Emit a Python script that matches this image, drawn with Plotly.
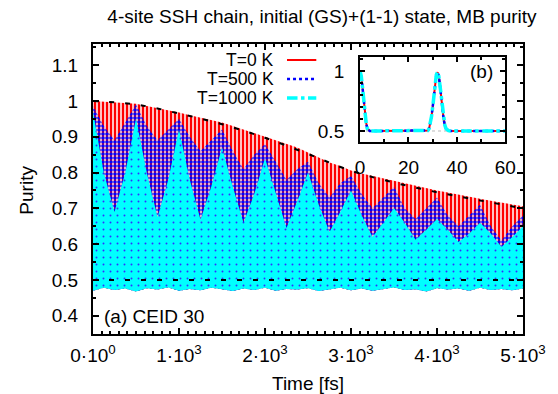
import plotly.graph_objects as go

# ---------------- data ----------------
# main panel: envelopes of the fast oscillations (sampled every 125 fs)
t_env = [0, 125, 250, 375, 500, 625, 750, 875, 1000, 1125, 1250, 1375, 1500, 1625,
         1750, 1875, 2000, 2125, 2250, 2375, 2500, 2625, 2750, 2875, 3000, 3125,
         3250, 3375, 3500, 3625, 3750, 3875, 4000, 4125, 4250, 4375, 4500, 4625,
         4750, 4875, 5000]
T0_top = [1.000, 0.998, 0.996, 0.994, 0.992, 0.986, 0.980, 0.975, 0.968, 0.960, 0.953,
          0.948, 0.940, 0.930, 0.920, 0.912, 0.902, 0.892, 0.880, 0.870, 0.856, 0.842,
          0.828, 0.818, 0.806, 0.797, 0.790, 0.783, 0.776, 0.770, 0.764, 0.757, 0.750,
          0.744, 0.739, 0.733, 0.727, 0.721, 0.716, 0.710, 0.706]
T500_top = [0.985, 0.93, 0.89, 0.94, 0.99, 0.93, 0.89, 0.92, 0.95, 0.90, 0.86, 0.89,
            0.92, 0.86, 0.81, 0.85, 0.88, 0.83, 0.78, 0.81, 0.83, 0.77, 0.73, 0.77,
            0.79, 0.74, 0.70, 0.73, 0.76, 0.70, 0.67, 0.70, 0.73, 0.68, 0.65, 0.68,
            0.71, 0.65, 0.61, 0.65, 0.68]
T1000_top = [0.97, 0.80, 0.69, 0.80, 0.95, 0.80, 0.675, 0.78, 0.92, 0.78, 0.668, 0.76,
             0.87, 0.76, 0.66, 0.74, 0.84, 0.74, 0.645, 0.72, 0.80, 0.71, 0.634, 0.69,
             0.75, 0.68, 0.62, 0.66, 0.70, 0.66, 0.612, 0.64, 0.67, 0.64, 0.606, 0.63,
             0.66, 0.63, 0.592, 0.62, 0.65]
osc_bottom = [0.470, 0.478, 0.472, 0.476, 0.468, 0.477, 0.473, 0.479, 0.470, 0.475,
              0.471, 0.478, 0.474, 0.469, 0.476, 0.472, 0.478, 0.470, 0.475, 0.473,
              0.477, 0.469, 0.474, 0.478, 0.471, 0.476, 0.470, 0.475, 0.479, 0.472,
              0.474, 0.468, 0.477, 0.473, 0.476, 0.470, 0.478, 0.472, 0.475, 0.471,
              0.476]

# dashed reference curves
t_ref = [0, 500, 1000, 1500, 2000, 2500, 3000, 3500, 4000, 4500, 5000]
ref_upper = [1.0, 0.99, 0.965, 0.935, 0.897, 0.852, 0.805, 0.772, 0.745, 0.722, 0.70]
ref_lower = [0.5, 0.5, 0.5, 0.5, 0.5, 0.5, 0.5, 0.5, 0.5, 0.5, 0.5]

# inset (b): short-time purity (all three temperatures coincide)
inset_t = [0, 0.5, 1, 1.5, 2, 2.5, 3, 3.5, 4, 6, 8, 12, 16, 20, 24, 27, 28, 28.5, 29,
           29.5, 30, 30.5, 31, 31.5, 32, 32.5, 33, 33.5, 34, 34.5, 35, 35.5, 36.5,
           37.5, 42, 46, 50, 54, 58, 60]
inset_purity = [1.0, 0.96, 0.87, 0.76, 0.65, 0.57, 0.52, 0.505, 0.5, 0.5, 0.5, 0.5,
                0.5, 0.5, 0.5, 0.5, 0.505, 0.52, 0.56, 0.62, 0.70, 0.80, 0.90, 0.97,
                0.99, 0.96, 0.88, 0.78, 0.68, 0.60, 0.55, 0.52, 0.503, 0.5, 0.5, 0.5,
                0.5, 0.5, 0.5, 0.5]

x_tickvals = [0, 1000, 2000, 3000, 4000, 5000]
x_ticktext = ["0·10<sup>0</sup>", "1·10<sup>3</sup>", "2·10<sup>3</sup>",
              "3·10<sup>3</sup>", "4·10<sup>3</sup>", "5·10<sup>3</sup>"]
y_tickvals = [0.4, 0.5, 0.6, 0.7, 0.8, 0.9, 1.0, 1.1]
y_ticktext = ["0.4", "0.5", "0.6", "0.7", "0.8", "0.9", "1", "1.1"]

FONT = "Liberation Sans"
FS = 19

fig = go.Figure()


def band(top, pattern, fillcolor):
    return go.Scatter(
        x=t_env + t_env[::-1], y=top + osc_bottom[::-1], fill="toself",
        mode="lines", line=dict(width=0), fillcolor=fillcolor, fillpattern=pattern,
        hoverinfo="skip", showlegend=False, xaxis="x", yaxis="y")


fig.add_trace(band(T0_top, dict(shape="|", fgcolor="#ff0000", bgcolor="white",
                                size=4, solidity=0.62, fillmode="replace"), "white"))
fig.add_trace(band(T500_top, dict(shape=".", fgcolor="#0000ff",
                                  bgcolor="rgba(0,0,0,0)", size=4, solidity=0.62,
                                  fillmode="replace"), "rgba(0,0,0,0)"))
fig.add_trace(band(T1000_top, dict(shape=".", fgcolor="#3030ff", bgcolor="#00ffff",
                                   size=7, solidity=0.06, fillmode="replace"),
                   "#00ffff"))

fig.add_trace(go.Scatter(x=t_ref, y=ref_upper, mode="lines", line_shape="spline",
                         line=dict(color="black", width=2, dash="5px,11px"),
                         showlegend=False, hoverinfo="skip"))
fig.add_trace(go.Scatter(x=t_ref, y=ref_lower, mode="lines",
                         line=dict(color="black", width=2, dash="5px,11px"),
                         showlegend=False, hoverinfo="skip"))

# inset
fig.add_trace(go.Scatter(x=[inset_t[0], inset_t[-1]], y=[ref_lower[0], ref_lower[-1]],
                         mode="lines", line=dict(color="#bbbbbb", width=1, dash="dot"),
                         xaxis="x2", yaxis="y2", showlegend=False, hoverinfo="skip"))
fig.add_trace(go.Scatter(x=inset_t, y=inset_purity, mode="lines",
                         line=dict(color="#ff0000", width=2),
                         xaxis="x2", yaxis="y2", showlegend=False))
fig.add_trace(go.Scatter(x=inset_t, y=inset_purity, mode="lines",
                         line=dict(color="#0000ff", width=2.5, dash="dot"),
                         xaxis="x2", yaxis="y2", showlegend=False))
fig.add_trace(go.Scatter(x=inset_t, y=inset_purity, mode="lines",
                         line=dict(color="#00ffff", width=3.5, dash="dashdot"),
                         xaxis="x2", yaxis="y2", showlegend=False))

axis_common = dict(showline=True, linecolor="black", linewidth=2, mirror="allticks",
                   ticks="inside", tickcolor="black", showgrid=False, zeroline=False,
                   tickfont=dict(family=FONT, size=FS, color="black"))

fig.update_layout(
    width=558, height=394,
    margin=dict(l=93, r=24, t=44, b=60),
    paper_bgcolor="white", plot_bgcolor="white",
    font=dict(family=FONT, size=FS, color="black"),
    title=dict(text="4-site SSH chain, initial (GS)+(1-1) state, MB purity",
               x=0.577, xanchor="center", y=0.958, yanchor="middle",
               font=dict(family=FONT, size=FS, color="black")),
    xaxis=dict(domain=[0, 1], range=[0, 5000], tickvals=x_tickvals,
               ticktext=x_ticktext, ticklen=6, tickwidth=1.5,
               minor=dict(dtick=100, ticks="inside", ticklen=3, tickcolor="black"),
               ticklabelstandoff=3, **axis_common),
    yaxis=dict(domain=[0, 1], range=[0.349, 1.159], tickvals=y_tickvals,
               ticktext=y_ticktext, ticklen=6, tickwidth=1.5,
               minor=dict(dtick=0.05, ticks="inside", ticklen=3, tickcolor="black"),
               ticklabelstandoff=9, **axis_common),
    xaxis2=dict(domain=[0.621, 0.959], anchor="y2", range=[0, 60],
                tickvals=[0, 20, 40, 60], ticklen=5, tickwidth=1.5,
                minor=dict(dtick=10, ticks="inside", ticklen=3, tickcolor="black"),
                ticklabelstandoff=7, **axis_common),
    yaxis2=dict(domain=[0.662, 0.955], anchor="x2", range=[0.408, 1.117],
                tickvals=[0.5, 1.0], ticktext=["0.5", "1"], ticklen=5, tickwidth=1.5,
                minor=dict(dtick=0.1, ticks="inside", ticklen=3, tickcolor="black"),
                ticklabelstandoff=10, **axis_common),
)

ann = dict(showarrow=False, font=dict(family=FONT, size=FS, color="black"))
leg_ann = dict(showarrow=False, font=dict(family=FONT, size=17.5, color="black"))
fig.add_annotation(text="Time [fs]", xref="paper", yref="paper", x=0.5, y=-0.169,
                   xanchor="center", yanchor="middle", **ann)
fig.add_annotation(text="Purity", xref="paper", yref="paper", x=-0.154, y=0.497,
                   xanchor="center", yanchor="middle", textangle=-90, **ann)
fig.add_annotation(text="(a) CEID 30", xref="paper", yref="paper", x=0.02, y=0.062,
                   xanchor="left", yanchor="middle", **ann)
fig.add_annotation(text="(b)", xref="paper", yref="paper", x=0.934, y=0.905,
                   xanchor="right", yanchor="middle", **ann)

legend_items = [("T=0 K", 0.9448, "#ff0000", "solid", 2),
                ("T=500 K", 0.8793, "#0000ff", "dot", 2.5),
                ("T=1000 K", 0.8138, "#00ffff", "dashdot", 3.5)]
for label, yy, col, dash, w in legend_items:
    fig.add_annotation(text=label, xref="paper", yref="paper", x=0.4263, y=yy,
                       xanchor="right", yanchor="middle", **leg_ann)
    fig.add_shape(type="line", xref="paper", yref="paper", x0=0.4512, x1=0.5193,
                  y0=yy, y1=yy, line=dict(color=col, width=w, dash=dash))

fig.write_html("out.html")
